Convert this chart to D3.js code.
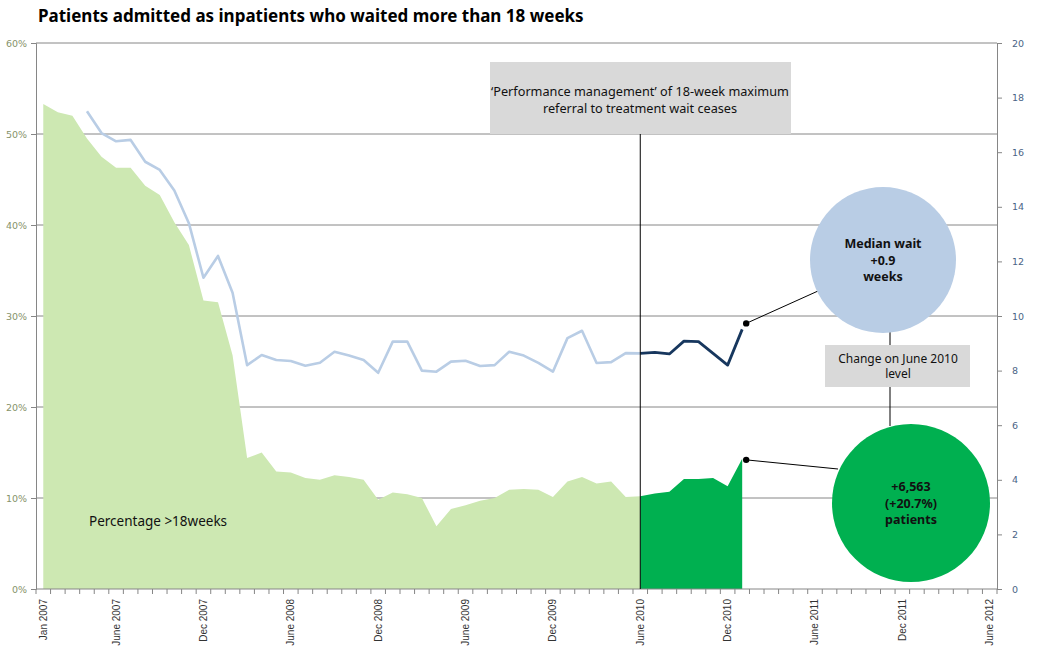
<!DOCTYPE html>
<html>
<head>
<meta charset="utf-8">
<script src="https://cdn.jsdelivr.net/npm/d3@7"></script>
<style>
  body { margin: 0; background: #fff; }
  svg { display: block; }
</style>
</head>
<body>
<div id="chart"></div>
<script>
// months Jan 2007 .. June 2012 (66 categories)
const months = d3.timeMonth.range(new Date(2007, 0, 1), new Date(2012, 6, 1));
const tickIndex = [0, 5, 11, 17, 23, 29, 35, 41, 47, 53, 59, 65];
const tickLabels = ['Jan 2007', 'June 2007', 'Dec 2007', 'June 2008', 'Dec 2008', 'June 2009',
  'Dec 2009', 'June 2010', 'Dec 2010', 'June 2011', 'Dec 2011', 'June 2012'];
const pctTicks = [0, 10, 20, 30, 40, 50, 60];
const weekTicks = [0, 2, 4, 6, 8, 10, 12, 14, 16, 18, 20];

// % admitted patients waiting > 18 weeks, Jan 2007 .. June 2010
const pctBefore = [53.3, 52.4, 52.0, 49.5, 47.5, 46.3, 46.3, 44.3, 43.3, 40.3, 37.8, 31.7,
  31.5, 25.7, 14.4, 15.0, 12.9, 12.8, 12.2, 12.0, 12.5, 12.3, 12.0, 9.8, 10.6, 10.4, 10.0,
  6.9, 8.8, 9.2, 9.7, 10.0, 10.9, 11.0, 10.9, 10.1, 11.8, 12.3, 11.6, 11.8, 10.1, 10.2];
// June 2010 .. Jan 2011
const pctAfter = [10.2, 10.5, 10.7, 12.1, 12.1, 12.2, 11.3, 14.3];
// median wait (weeks), Jan 2007 .. June 2010 (first three months missing)
const waitBefore = [null, null, null, 17.5, 16.7, 16.4, 16.45, 15.65, 15.35, 14.6, 13.4, 11.4,
  12.2, 10.85, 8.2, 8.57, 8.39, 8.35, 8.18, 8.29, 8.69, 8.55, 8.39, 7.92, 9.06, 9.06, 8.0,
  7.96, 8.33, 8.36, 8.17, 8.2, 8.69, 8.55, 8.28, 7.96, 9.19, 9.46, 8.28, 8.31, 8.64, 8.63];
const waitAfter = [8.63, 8.67, 8.61, 9.08, 9.06, 8.63, 8.2, 9.51];
const afterStart = 41;

const width = 1040, height = 670;
const m = {top: 43, right: 43, bottom: 81, left: 36};

const svg = d3.select('#chart').append('svg')
  .attr('width', width).attr('height', height);

const x = d3.scaleBand().domain(d3.range(months.length))
  .range([m.left, width - m.right]);
const cx = i => x(i) + x.bandwidth() / 2;
const yPct = d3.scaleLinear().domain([0, 60]).range([height - m.bottom, m.top]);
const yWk = d3.scaleLinear().domain([0, 20]).range([height - m.bottom, m.top]);

const labelFont = "'DejaVu Sans', sans-serif";
const textFont = "'Noto Sans', sans-serif";

// title
svg.append('text')
  .attr('x', 38).attr('y', 22)
  .style('font-family', textFont).style('font-weight', 'bold').style('font-size', '17px')
  .attr('fill', '#000')
  .text('Patients admitted as inpatients who waited more than 18 weeks');

// gridlines
svg.append('g')
  .selectAll('line').data(pctTicks.slice(1)).join('line')
  .attr('x1', m.left).attr('x2', width - m.right)
  .attr('y1', d => yPct(d)).attr('y2', d => yPct(d))
  .attr('stroke', '#868686').attr('stroke-width', 1);

// areas
const area = d3.area()
  .x(d => cx(d.i)).y0(yPct(0)).y1(d => yPct(d.v));
svg.append('path')
  .datum(pctBefore.map((v, i) => ({i, v})))
  .attr('d', area).attr('fill', '#cde8b2');
svg.append('path')
  .datum(pctAfter.map((v, k) => ({i: k + afterStart, v})))
  .attr('d', area).attr('fill', '#00b050');

// lines
const line = d3.line()
  .defined(d => d.v != null)
  .x(d => cx(d.i)).y(d => yWk(d.v));
svg.append('path')
  .datum(waitBefore.map((v, i) => ({i, v})))
  .attr('d', line).attr('fill', 'none')
  .attr('stroke', '#b9cde5').attr('stroke-width', 2.6).attr('stroke-linejoin', 'round');
svg.append('path')
  .datum(waitAfter.map((v, k) => ({i: k + afterStart, v})))
  .attr('d', line).attr('fill', 'none')
  .attr('stroke', '#17375e').attr('stroke-width', 2.8).attr('stroke-linejoin', 'round');

// left axis
const gl = svg.append('g').attr('transform', `translate(${m.left},0)`)
  .call(d3.axisLeft(yPct).tickValues(pctTicks).tickFormat(d => d + '%').tickSize(5).tickPadding(4));
gl.select('.domain').attr('stroke', '#868686');
gl.selectAll('.tick line').attr('stroke', '#868686');
gl.selectAll('.tick text').attr('fill', '#86926a')
  .style('font-family', labelFont).style('font-size', '9.5px');

// right axis
const gr = svg.append('g').attr('transform', `translate(${width - m.right},0)`)
  .call(d3.axisRight(yWk).tickValues(weekTicks).tickSize(5).tickPadding(10));
gr.select('.domain').attr('stroke', '#868686');
gr.selectAll('.tick line').attr('stroke', '#868686');
gr.selectAll('.tick text').attr('fill', '#4a6486')
  .style('font-family', labelFont).style('font-size', '9.5px');

// x axis
const gx = svg.append('g');
gx.append('line')
  .attr('x1', m.left).attr('x2', width - m.right)
  .attr('y1', yPct(0)).attr('y2', yPct(0))
  .attr('stroke', '#868686');
gx.selectAll('line.tk').data(d3.range(months.length + 1)).join('line')
  .attr('class', 'tk')
  .attr('x1', i => m.left + i * x.step()).attr('x2', i => m.left + i * x.step())
  .attr('y1', yPct(0)).attr('y2', yPct(0) + 5)
  .attr('stroke', '#868686');
gx.selectAll('text').data(tickIndex).join('text')
  .attr('transform', i => `translate(${cx(i)},${yPct(0) + 10}) rotate(-90)`)
  .attr('text-anchor', 'end').attr('dy', '0.35em')
  .style('font-family', "'Liberation Sans', Arial, sans-serif").style('font-size', '10px')
  .attr('fill', '#333')
  .text((d, k) => tickLabels[k]);

// series label
svg.append('text')
  .attr('x', 89).attr('y', 526)
  .style('font-family', textFont).style('font-size', '13.5px').attr('fill', '#111')
  .text('Percentage >18weeks');

// June 2010 marker line and note
const xJune = cx(afterStart);
svg.append('line')
  .attr('x1', xJune).attr('x2', xJune)
  .attr('y1', 133).attr('y2', yPct(0))
  .attr('stroke', '#000').attr('stroke-width', 1);
svg.append('rect')
  .attr('x', 490).attr('y', 62).attr('width', 301).attr('height', 72)
  .attr('fill', '#d9d9d9');
svg.append('text')
  .attr('x', 640).attr('y', 96).attr('text-anchor', 'middle')
  .style('font-family', textFont).style('font-size', '12.7px').attr('fill', '#111')
  .selectAll('tspan')
  .data(['\u2018Performance management\u2019 of 18-week maximum', 'referral to treatment wait ceases'])
  .join('tspan')
  .attr('x', 640).attr('dy', (d, i) => i ? 17 : 0)
  .text(d => d);

// connector between circles
svg.append('line')
  .attr('x1', 890).attr('x2', 890).attr('y1', 330).attr('y2', 426)
  .attr('stroke', '#000');
svg.append('rect')
  .attr('x', 825).attr('y', 345).attr('width', 145).attr('height', 42)
  .attr('fill', '#d9d9d9');
svg.append('text')
  .attr('text-anchor', 'middle')
  .style('font-family', textFont).style('font-size', '12px').attr('fill', '#111')
  .selectAll('tspan').data(['Change on June 2010', 'level']).join('tspan')
  .attr('x', 898).attr('y', (d, i) => 363 + i * 15)
  .text(d => d);

// leader lines to the last data points
const lastI = afterStart + waitAfter.length - 1;
const blueDot = [cx(lastI) + 4, yWk(waitAfter[waitAfter.length - 1]) - 6];
const greenDot = [cx(lastI) + 4, yPct(pctAfter[pctAfter.length - 1]) + 1];
svg.append('line')
  .attr('x1', blueDot[0]).attr('y1', blueDot[1]).attr('x2', 818).attr('y2', 291)
  .attr('stroke', '#000');
svg.append('line')
  .attr('x1', greenDot[0]).attr('y1', greenDot[1]).attr('x2', 838).attr('y2', 469)
  .attr('stroke', '#000');
svg.selectAll('circle.dot').data([blueDot, greenDot]).join('circle')
  .attr('class', 'dot')
  .attr('cx', d => d[0]).attr('cy', d => d[1]).attr('r', 3.2).attr('fill', '#000');

// bubbles
const bubbles = [
  {cx: 883, cy: 260, r: 73, fill: '#b9cde5', lines: ['Median wait', '+0.9', 'weeks']},
  {cx: 911, cy: 503, r: 79, fill: '#00b050', lines: ['+6,563', '(+20.7%)', 'patients']}
];
const bg = svg.selectAll('g.bubble').data(bubbles).join('g').attr('class', 'bubble');
bg.append('circle')
  .attr('cx', d => d.cx).attr('cy', d => d.cy).attr('r', d => d.r)
  .attr('fill', d => d.fill);
bg.append('text')
  .attr('text-anchor', 'middle')
  .style('font-family', textFont).style('font-size', '12.5px').style('font-weight', 'bold')
  .attr('fill', '#111')
  .selectAll('tspan').data(d => d.lines.map((t, k) => ({t, k, d}))).join('tspan')
  .attr('x', o => o.d.cx)
  .attr('y', o => o.d.cy - 12 + o.k * 16.5)
  .text(o => o.t);
</script>
</body>
</html>
